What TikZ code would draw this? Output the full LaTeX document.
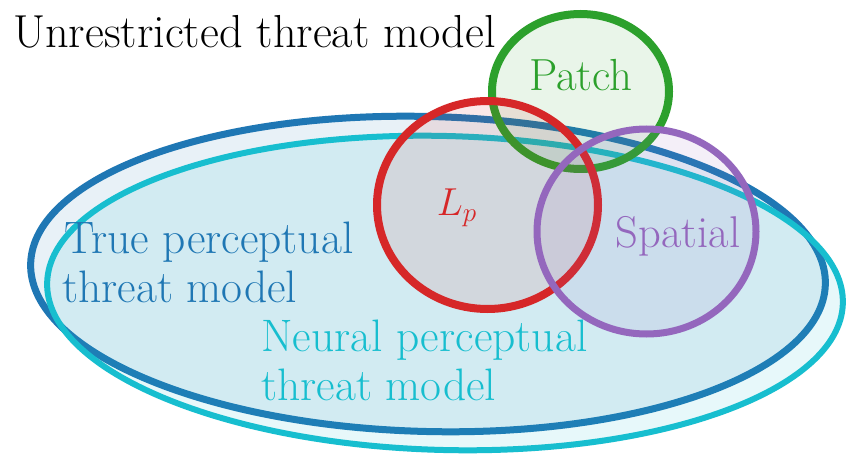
\documentclass[tikz,border=0pt]{standalone}
\usepackage{graphicx}
\usepackage{fontspec}
\definecolor{tblue}{RGB}{31,119,180}
\definecolor{tcyan}{RGB}{23,190,207}
\definecolor{tred}{RGB}{214,39,40}
\definecolor{tgreen}{RGB}{44,160,44}
\definecolor{tpurple}{RGB}{148,103,189}
\begin{document}
\begin{tikzpicture}[x=1pt,y=-1pt,
  setshape/.style={draw=#1, fill=#1, fill opacity=0.1, draw opacity=1},
  lbl/.style={inner sep=0pt, text=#1, font=\rmfamily\fontsize{45.5}{48}\selectfont}]
\useasboundingbox (0,0) rectangle (854,454);
\fill[white] (0,0) rectangle (854,454);

% perceptual threat models
\draw[setshape=tblue, line width=7pt, rotate around={-1.5:(428,274)}]
  (428,274) ellipse [x radius=397.5pt, y radius=157.5pt];
\draw[setshape=tcyan, line width=6pt, rotate around={-1.5:(445,293)}]
  (445,293) ellipse [x radius=398pt, y radius=157pt];

% Patch, Lp, Spatial
\draw[setshape=tgreen, line width=8pt]
  (580.5,91.5) ellipse [x radius=88.5pt, y radius=77.5pt];
\draw[setshape=tred, line width=8pt]
  (487.5,205) ellipse [x radius=110.5pt, y radius=104pt];
\draw[setshape=tpurple, line width=7pt]
  (646.5,231.5) ellipse [x radius=109.5pt, y radius=102.5pt];

% labels
\node[lbl=black, font=\rmfamily\fontsize{46.3}{50}\selectfont, anchor=base west] (unr) at (13,48) {Unrestricted threat model};
\node[lbl=tgreen, font=\rmfamily\fontsize{45}{47}\selectfont, anchor=base] (patch) at (581,91) {Patch};
\node[lbl=tred, font=\fontsize{20}{22}\selectfont, anchor=base] (lp) at (457,216) {\scalebox{1.88}{$L_p$}};
\node[lbl=tpurple, font=\rmfamily\fontsize{44.5}{47}\selectfont, anchor=base] (spatial) at (678,248) {Spatial};
\node[lbl=tblue, anchor=base west] (tp1) at (64,254) {True perceptual};
\node[lbl=tblue, anchor=base west] (tp2) at (62,302) {threat model};
\node[lbl=tcyan, anchor=base west] (np1) at (261,352) {Neural perceptual};
\node[lbl=tcyan, anchor=base west] (np2) at (261,400) {threat model};
\end{tikzpicture}
\end{document}
